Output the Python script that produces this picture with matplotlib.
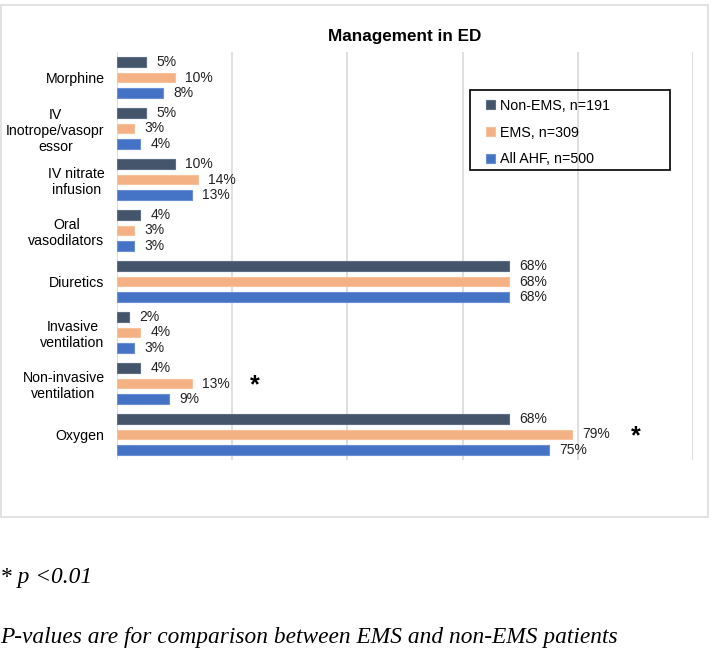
import matplotlib

matplotlib.use('Agg')

import matplotlib.pyplot as plt
import numpy as np
from matplotlib.patches import Rectangle

categories = ['Morphine', 'IV\nInotrope/vasopr\nessor', 'IV nitrate\ninfusion', 'Oral\nvasodilators',
              'Diuretics', 'Invasive\nventilation', 'Non-invasive\nventilation', 'Oxygen']
non_ems = [5, 5, 10, 4, 68, 2, 4, 68]
ems = [10, 3, 14, 3, 68, 4, 13, 79]
all_ahf = [8, 4, 13, 3, 68, 3, 9, 75]
series_labels = ['Non-EMS, n=191', 'EMS, n=309', 'All AHF, n=500']
significant = [6, 7]  # categories where EMS vs non-EMS p < 0.01

colors = ['#44546A', '#F4B183', '#4472C4']
edges = ['#5d6d82', '#f6c29c', '#6a8fd4']

plt.rcParams['font.family'] = ['Liberation Sans', 'DejaVu Sans']

fig = plt.figure(figsize=(7.12, 6.5), dpi=100)
# outer chart frame
fig.patches.append(Rectangle((1 / 712, 1 - 517 / 650), 707 / 712, 512 / 650, transform=fig.transFigure,
                             fill=False, edgecolor='#DDDDDD', linewidth=1.2))

ax = fig.add_axes([117 / 712, 1 - 460 / 650, 576 / 712, 408 / 650])
y = np.arange(len(categories))
offsets = [-0.305, 0, 0.305]
h = 0.19
for vals, off, c, ec, lab in zip([non_ems, ems, all_ahf], offsets, colors, edges, series_labels):
    ax.barh(y + off, vals, height=h, color=c, edgecolor=ec, linewidth=0.8, label=lab, zorder=3)
    for yy, v in zip(y + off, vals):
        ax.text(v + 1.8, yy, f'{v}%', va='center', ha='left', fontsize=10, color='#222222')

for i in significant:
    ax.text(ems[i] + 11, y[i] + 0.04, '*', ha='center', va='center', fontsize=18, fontweight='bold')

ax.set_xlim(0, 100)
ax.set_ylim(7.5, -0.5)
ax.set_xticks([0, 20, 40, 60, 80, 100])
ax.set_xticklabels([])
ax.tick_params(axis='x', length=0)
ax.tick_params(axis='y', length=0, pad=9)
ax.set_yticks(y)
ax.set_yticklabels(categories, fontsize=10.2, multialignment='center')
ax.grid(axis='x', color='#D9D9D9', linewidth=1.2, zorder=0)
for s in ax.spines.values():
    s.set_visible(False)

ax.set_title('Management in ED', fontsize=12.3, fontweight='bold', pad=8)

leg = ax.legend(loc='upper left', bbox_to_anchor=((486 - 117) / 576, (460 - 99) / 408),
                frameon=False, fontsize=10.3,
                handlelength=0.6, handleheight=0.6, handletextpad=0.35,
                labelspacing=0.88, borderpad=0, borderaxespad=0)
fig.patches.append(Rectangle((470 / 712, 1 - 170 / 650), 200 / 712, 80 / 650, transform=fig.transFigure,
                             fill=False, edgecolor='black', linewidth=1.2, zorder=5))

fig.text(0.0, 1 - 578 / 650, '* p <0.01', fontsize=16.8, fontstyle='italic',
         family='Liberation Serif', va='center', ha='left')
fig.text(0.0, 1 - 637 / 650, 'P-values are for comparison between EMS and non-EMS patients', fontsize=16.8,
         fontstyle='italic', family='Liberation Serif', va='center', ha='left')

fig.savefig('out.png', dpi=100)
